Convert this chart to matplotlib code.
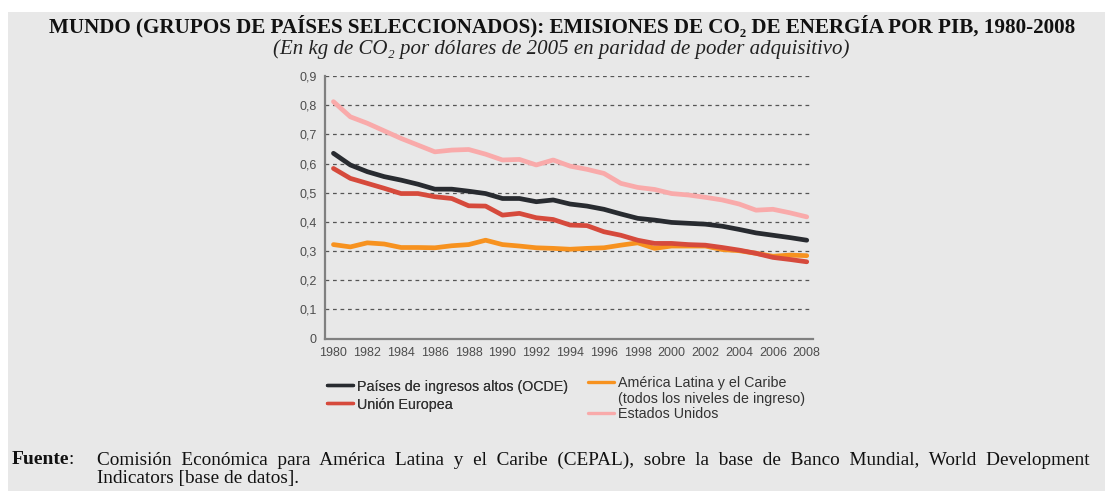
import numpy as np
import matplotlib.pyplot as plt
from matplotlib.patches import Rectangle
from matplotlib.lines import Line2D

years = list(range(1980, 2009))

ocde = [0.635, 0.595, 0.572, 0.555, 0.543, 0.529, 0.512, 0.512, 0.505, 0.497,
        0.480, 0.480, 0.469, 0.475, 0.461, 0.454, 0.443, 0.427, 0.412, 0.406,
        0.398, 0.395, 0.392, 0.385, 0.374, 0.362, 0.354, 0.346, 0.337]
ue = [0.583, 0.549, 0.532, 0.515, 0.497, 0.497, 0.486, 0.480, 0.455, 0.454,
      0.423, 0.429, 0.414, 0.408, 0.389, 0.387, 0.366, 0.354, 0.337, 0.326,
      0.326, 0.322, 0.320, 0.312, 0.303, 0.292, 0.278, 0.271, 0.263]
alc = [0.322, 0.314, 0.328, 0.324, 0.312, 0.312, 0.311, 0.318, 0.322, 0.337,
       0.322, 0.317, 0.311, 0.309, 0.306, 0.309, 0.311, 0.320, 0.328, 0.309,
       0.317, 0.317, 0.317, 0.305, 0.301, 0.292, 0.282, 0.286, 0.284]
eeuu = [0.812, 0.760, 0.738, 0.712, 0.686, 0.663, 0.640, 0.646, 0.648, 0.632,
        0.612, 0.614, 0.595, 0.612, 0.591, 0.580, 0.566, 0.532, 0.518, 0.511,
        0.497, 0.492, 0.484, 0.475, 0.461, 0.440, 0.443, 0.431, 0.417]

labels = ["Países de ingresos altos (OCDE)", "Unión Europea",
          "América Latina y el Caribe", "Estados Unidos"]
label_extra = "(todos los niveles de ingreso)"
colors = ["#282b30", "#d64a3c", "#f7921f", "#f9aaaa"]

yticks = [0, 0.1, 0.2, 0.3, 0.4, 0.5, 0.6, 0.7, 0.8, 0.9]
ytick_labels = ["0", "0,1", "0,2", "0,3", "0,4", "0,5", "0,6", "0,7", "0,8", "0,9"]
xticks = list(range(1980, 2009, 2))

bg = "#e8e8e8"
serif = ["Liberation Serif", "DejaVu Serif"]
fig = plt.figure(figsize=(11.05, 4.91), dpi=100, facecolor="white")
fig.patches.append(Rectangle((8 / 1105, 0), 1, 1 - 12 / 491, transform=fig.transFigure,
                             facecolor=bg, edgecolor="none", zorder=-10))

ax = fig.add_axes([325 / 1105, 1 - 338.5 / 491, 488 / 1105, 262.5 / 491])
ax.set_facecolor("none")

series = [ocde, ue, alc, eeuu]
zorders = [5, 4, 3, 2]
lines = []
for s, c, lab, z in zip(series, colors, labels, zorders):
    ln, = ax.plot(years, s, color=c, lw=3.4, label=lab, solid_joinstyle="round",
                  solid_capstyle="round", zorder=z)
    lines.append(ln)

ax.set_xlim(1979.5, 2008.37)
ax.set_ylim(0, 0.9)
ax.set_yticks(yticks)
ax.set_yticklabels(ytick_labels)
ax.set_xticks(xticks)
ax.tick_params(length=0, labelsize=9, colors="#4d4d4d", pad=6)
for lab in ax.get_xticklabels() + ax.get_yticklabels():
    lab.set_fontfamily("Liberation Sans")
ax.yaxis.grid(True, linestyle=(0, (3, 3)), color="#555555", lw=0.9)
ax.set_axisbelow(True)
for sp in ["top", "right"]:
    ax.spines[sp].set_visible(False)
for sp in ["left", "bottom"]:
    ax.spines[sp].set_color("#808080")
    ax.spines[sp].set_linewidth(1.6)

leg_kw = dict(frameon=False, loc="upper left", prop={"family": "Liberation Sans", "size": 10.3},
              handlelength=1.8, handletextpad=0.3, borderpad=0, borderaxespad=0)
leg1 = fig.legend(handles=lines[:2], labels=labels[:2], labelspacing=0.28,
                  bbox_to_anchor=(327 / 1105, 1 - 379.5 / 491), **leg_kw)
blank = Line2D([], [], color="none")
leg2 = fig.legend(handles=[lines[2], blank, lines[3]],
                  labels=[labels[2], label_extra, labels[3]], labelspacing=0.1,
                  bbox_to_anchor=(588 / 1105, 1 - 376.5 / 491), **leg_kw)
fig.add_artist(leg1)
for leg in (leg1, leg2):
    for t in leg.get_texts():
        t.set_color("#333333")
    for l in leg.get_lines():
        l.set_linewidth(2.4)

fig.text(562 / 1105, 1 - 26 / 491,
         "MUNDO (GRUPOS DE PAÍSES SELECCIONADOS): EMISIONES DE CO₂ DE ENERGÍA POR PIB, 1980-2008",
         ha="center", va="center", fontsize=15.2, fontweight="bold",
         family=serif, color="#111111")
fig.text(561 / 1105, 1 - 49 / 491,
         "(En kg de CO₂ por dólares de 2005 en paridad de poder adquisitivo)",
         ha="center", va="center", fontsize=15, fontstyle="italic",
         family=serif, color="#222222")

fig.text(12 / 1105, 1 - 460 / 491, "Fuente", ha="left", va="center", fontsize=14,
         fontweight="bold", family="Liberation Serif", color="#111111")
fig.text(68 / 1105, 1 - 460 / 491, ":", ha="left", va="center", fontsize=14,
         family="Liberation Serif", color="#111111")
fig.text(97 / 1105, 1 - 460 / 491,
         "Comisión  Económica  para  América  Latina  y  el  Caribe  (CEPAL),  sobre  la  base  de  Banco  Mundial,  World  Development",
         ha="left", va="center", fontsize=13.9, family="Liberation Serif", color="#111111")
fig.text(97 / 1105, 1 - 478 / 491, "Indicators [base de datos].",
         ha="left", va="center", fontsize=13.9, family="Liberation Serif", color="#111111")

fig.savefig("out.png", dpi=100, facecolor=fig.get_facecolor())
